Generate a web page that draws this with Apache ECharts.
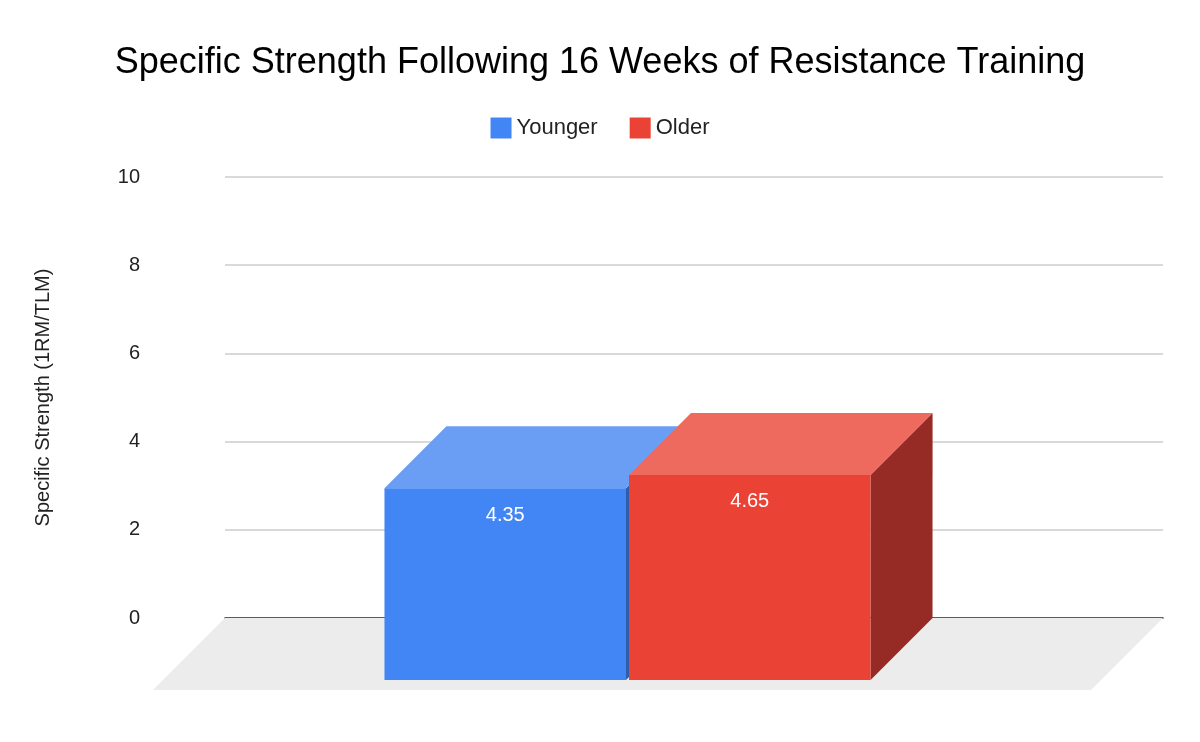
<!DOCTYPE html>
<html><head><meta charset="utf-8">
<script src="https://cdn.jsdelivr.net/npm/echarts@6/dist/echarts.min.js"></script>
<style>html,body{margin:0;padding:0;background:#fff}#c{width:1200px;height:742px}</style>
</head><body><div id="c"></div>
<script>
const categories = [''];
const seriesNames = ['Younger', 'Older'];
const younger = [4.35];
const older = [4.65];
const yTicks = [0, 2, 4, 6, 8, 10];

const chart = echarts.init(document.getElementById('c'));
const D = 62;
const cols = {
  Younger: {front: '#4285f4', top: '#6a9ef5', side: '#2e5dab'},
  Older: {front: '#ea4335', top: '#ee695e', side: '#952b24'}
};
function barRender(name, idx) {
  return function (params, api) {
    const v = api.value(1);
    const c = api.coord([0, v]);
    const z = api.coord([0, 0]);
    const band = api.size([1, 0])[0];
    const w = band * 0.2575;
    const bx = c[0] - w + idx * (w + 3) - 6; // back face left
    const top = c[1], bot = z[1];
    const fx = bx - D, fTop = top + D, fBot = bot + D;
    const col = cols[name];
    return {
      type: 'group',
      children: [
        {type: 'polygon', shape: {points: [[fx + w, fTop], [bx + w, top], [bx + w, bot], [fx + w, fBot]]}, style: {fill: col.side}},
        {type: 'polygon', shape: {points: [[fx, fTop], [bx, top], [bx + w, top], [fx + w, fTop]]}, style: {fill: col.top}},
        {type: 'rect', shape: {x: fx, y: fTop, width: w, height: fBot - fTop}, style: {fill: col.front}},
        {type: 'text', style: {text: v.toFixed(2), x: fx + w / 2, y: fTop + 27, align: 'center', verticalAlign: 'middle', fill: '#fff', font: '20px "Liberation Sans", Arial'}}
      ]
    };
  };
}
chart.setOption({
  animation: false,
  title: {text: 'Specific Strength Following 16 Weeks of Resistance Training', left: 'center', top: 40,
    textStyle: {fontFamily: 'Liberation Sans', fontSize: 36, fontWeight: 'normal', color: '#000'}},
  legend: {top: 112, left: 'center', icon: 'rect', itemWidth: 21, itemHeight: 21, itemGap: 32,
    data: seriesNames, textStyle: {fontFamily: 'Liberation Sans', fontSize: 22, color: '#222'}},
  grid: {left: 225, right: 37, top: 177, bottom: 124},
  xAxis: {type: 'category', data: categories, axisLine: {show: true, lineStyle: {color: '#333', width: 1.5}}, axisTick: {show: false}, axisLabel: {show: false}},
  yAxis: {type: 'value', min: 0, max: 10, interval: 2,
    name: 'Specific Strength (1RM/TLM)', nameLocation: 'middle', nameGap: 172, nameRotate: 90,
    nameTextStyle: {fontFamily: 'Liberation Sans', fontSize: 20, color: '#222'},
    axisLabel: {margin: 85, fontFamily: 'Liberation Sans', fontSize: 20, color: '#222'},
    splitLine: {lineStyle: {color: '#cccccc', width: 1.5}}},
  series: [
    {type: 'custom', name: 'floor', silent: true, z: 1, data: [[0, 0]], renderItem: function (params, api) {
      const cs = params.coordSys; const y0 = api.coord([0, 0])[1];
      return {type: 'polygon', shape: {points: [[cs.x, y0], [cs.x + cs.width, y0], [cs.x + cs.width - 72, y0 + 72], [cs.x - 72, y0 + 72]]}, style: {fill: '#ececec'}};
    }},
    {type: 'custom', name: 'Younger', z: 3, itemStyle: {color: '#4285f4'}, data: younger.map((v, i) => [i, v]), renderItem: barRender('Younger', 0)},
    {type: 'custom', name: 'Older', z: 4, itemStyle: {color: '#ea4335'}, data: older.map((v, i) => [i, v]), renderItem: barRender('Older', 1)}
  ]
});
</script></body></html>
